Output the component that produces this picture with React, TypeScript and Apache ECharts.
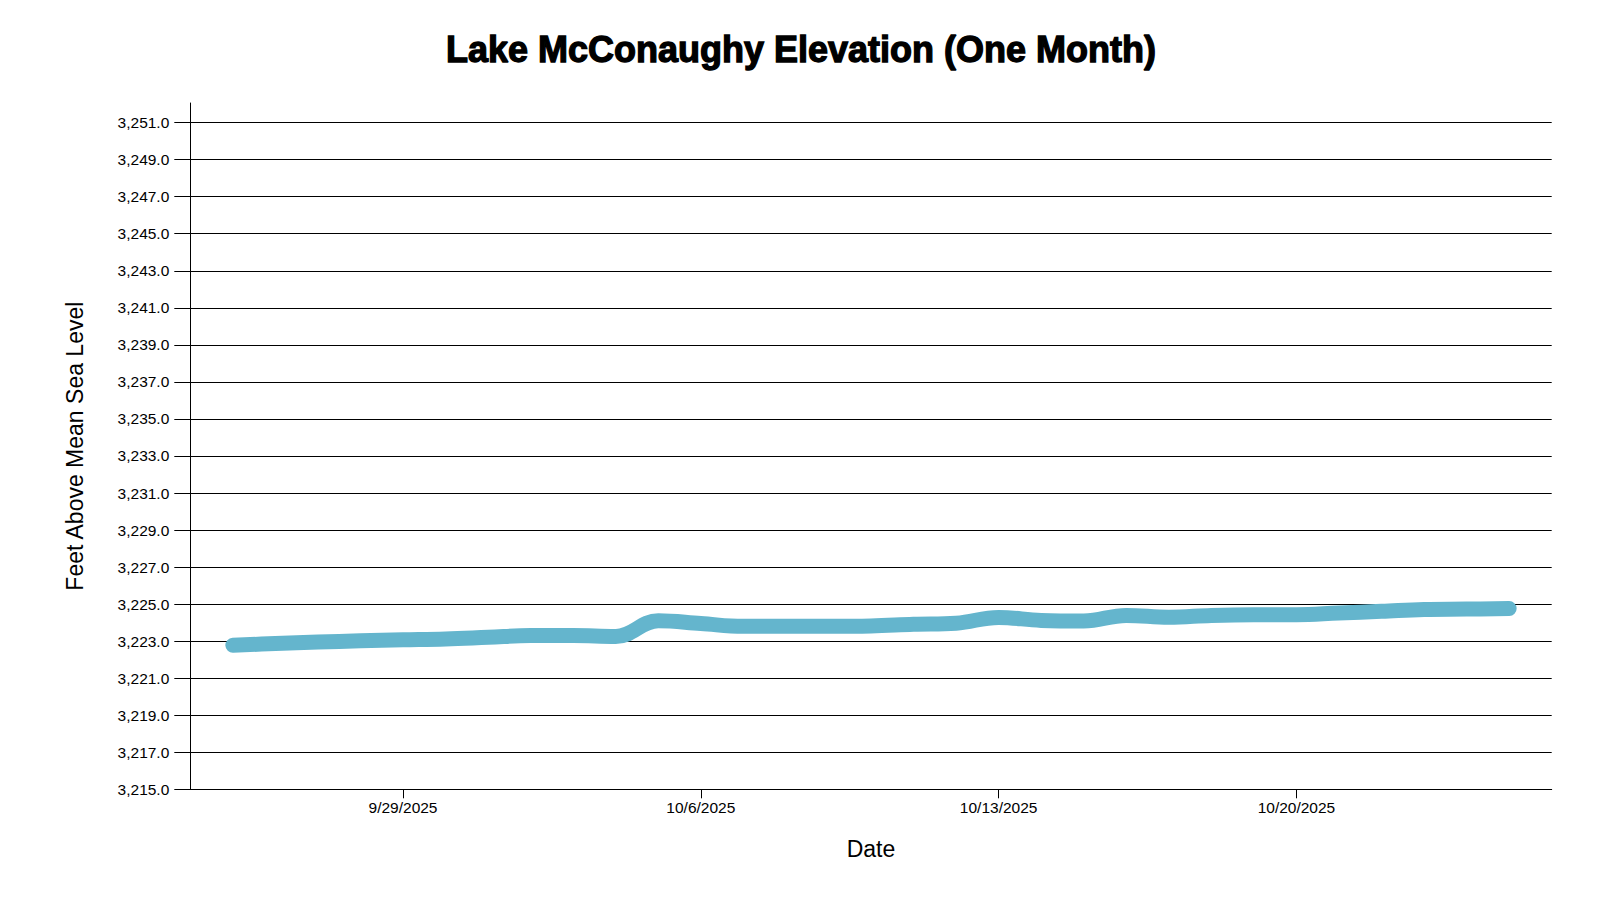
import React, { useEffect, useRef } from "react";
import * as echarts from "echarts";

const TITLE = "Lake McConaughy Elevation (One Month)";
const Y_NAME = "Feet Above Mean Sea Level";
const X_NAME = "Date";

const DATES: string[] = [
  "2025-09-25", "2025-09-26", "2025-09-27", "2025-09-28", "2025-09-29", "2025-09-30",
  "2025-10-01", "2025-10-02", "2025-10-03", "2025-10-04", "2025-10-05", "2025-10-06",
  "2025-10-07", "2025-10-08", "2025-10-09", "2025-10-10", "2025-10-11", "2025-10-12",
  "2025-10-13", "2025-10-14", "2025-10-15", "2025-10-16", "2025-10-17", "2025-10-18",
  "2025-10-19", "2025-10-20", "2025-10-21", "2025-10-22", "2025-10-23", "2025-10-24",
  "2025-10-25",
];

const ELEVATION: number[] = [
  3222.78, 3222.87, 3222.95, 3223.02, 3223.07, 3223.12,
  3223.21, 3223.3, 3223.3, 3223.25, 3224.1, 3223.95,
  3223.8, 3223.8, 3223.8, 3223.82, 3223.91, 3223.97,
  3224.28, 3224.12, 3224.09, 3224.39, 3224.29, 3224.39,
  3224.43, 3224.43, 3224.52, 3224.61, 3224.71, 3224.73,
  3224.76,
];

const X_TICK_DATES: string[] = ["2025-09-29", "2025-10-06", "2025-10-13", "2025-10-20"];
const X_MIN_DATE = "2025-09-24";
const X_MAX_DATE = "2025-10-26";

const Y_TICKS: number[] = [
  3215, 3217, 3219, 3221, 3223, 3225, 3227, 3229, 3231, 3233,
  3235, 3237, 3239, 3241, 3243, 3245, 3247, 3249, 3251,
];
const Y_MIN = 3215;
const Y_MAX = 3252.06;

const toTs = (s: string) => {
  const [y, m, d] = s.split("-").map(Number);
  return Date.UTC(y, m - 1, d);
};

const FONT = '"Liberation Sans", Arial, sans-serif';

export default function App() {
  const ref = useRef<HTMLDivElement>(null);

  useEffect(() => {
    document.body.style.margin = "0";
    if (!ref.current) return;
    const chart = echarts.init(ref.current, undefined, { renderer: "svg" });
    const xTicks = X_TICK_DATES.map(toTs);
    chart.setOption({
      animation: false,
      backgroundColor: "#ffffff",
      textStyle: { fontFamily: FONT },
      graphic: [
        {
          type: "text",
          x: 801,
          y: 49.5,
          style: {
            text: TITLE,
            font: `bold 36px ${FONT}`,
            fill: "#000",
            align: "center",
            verticalAlign: "middle",
            stroke: "#000",
            lineWidth: 1.3,
          },
        },
      ],
      grid: { left: 190.3, right: 48.3, top: 103, bottom: 110.7 },
      xAxis: {
        type: "value",
        min: toTs(X_MIN_DATE),
        max: toTs(X_MAX_DATE),
        name: X_NAME,
        nameLocation: "middle",
        nameGap: 48,
        nameTextStyle: { fontSize: 23, color: "#000", fontFamily: FONT },
        axisLine: { show: true, lineStyle: { color: "#000", width: 1 } },
        axisTick: {
          show: true,
          length: 9,
          customValues: xTicks,
          lineStyle: { color: "#000", width: 1 },
        },
        axisLabel: {
          customValues: xTicks,
          margin: 10,
          fontSize: 15.5,
          color: "#000",
          fontFamily: FONT,
          formatter: (v: number) => {
            const d = new Date(v);
            return `${d.getUTCMonth() + 1}/${d.getUTCDate()}/${d.getUTCFullYear()}`;
          },
        },
        splitLine: { show: false },
      },
      yAxis: {
        type: "value",
        min: Y_MIN,
        max: Y_MAX,
        interval: 2,
        name: Y_NAME,
        nameLocation: "middle",
        nameGap: 104,
        nameTextStyle: { fontSize: 23, color: "#000", fontFamily: FONT },
        axisLine: { show: true, lineStyle: { color: "#000", width: 1 } },
        axisTick: {
          show: true,
          length: 16,
          customValues: Y_TICKS,
          lineStyle: { color: "#000", width: 1 },
        },
        axisLabel: {
          customValues: Y_TICKS,
          margin: 21,
          fontSize: 15.5,
          color: "#000",
          fontFamily: FONT,
          formatter: (v: number) =>
            v.toLocaleString("en-US", { minimumFractionDigits: 1, maximumFractionDigits: 1 }),
        },
        splitLine: {
          show: true,
          showMinLine: false,
          showMaxLine: true,
          lineStyle: { color: "#000", width: 1 },
        },
      },
      series: [
        {
          type: "line",
          data: DATES.map((d, i) => [toTs(d), ELEVATION[i]]),
          smooth: 0.4,
          showSymbol: false,
          symbol: "none",
          lineStyle: { color: "#64b5cd", width: 15, cap: "round", join: "round" },
        },
      ],
    });
    return () => chart.dispose();
  }, []);

  return <div ref={ref} style={{ width: 1600, height: 900 }} />;
}
